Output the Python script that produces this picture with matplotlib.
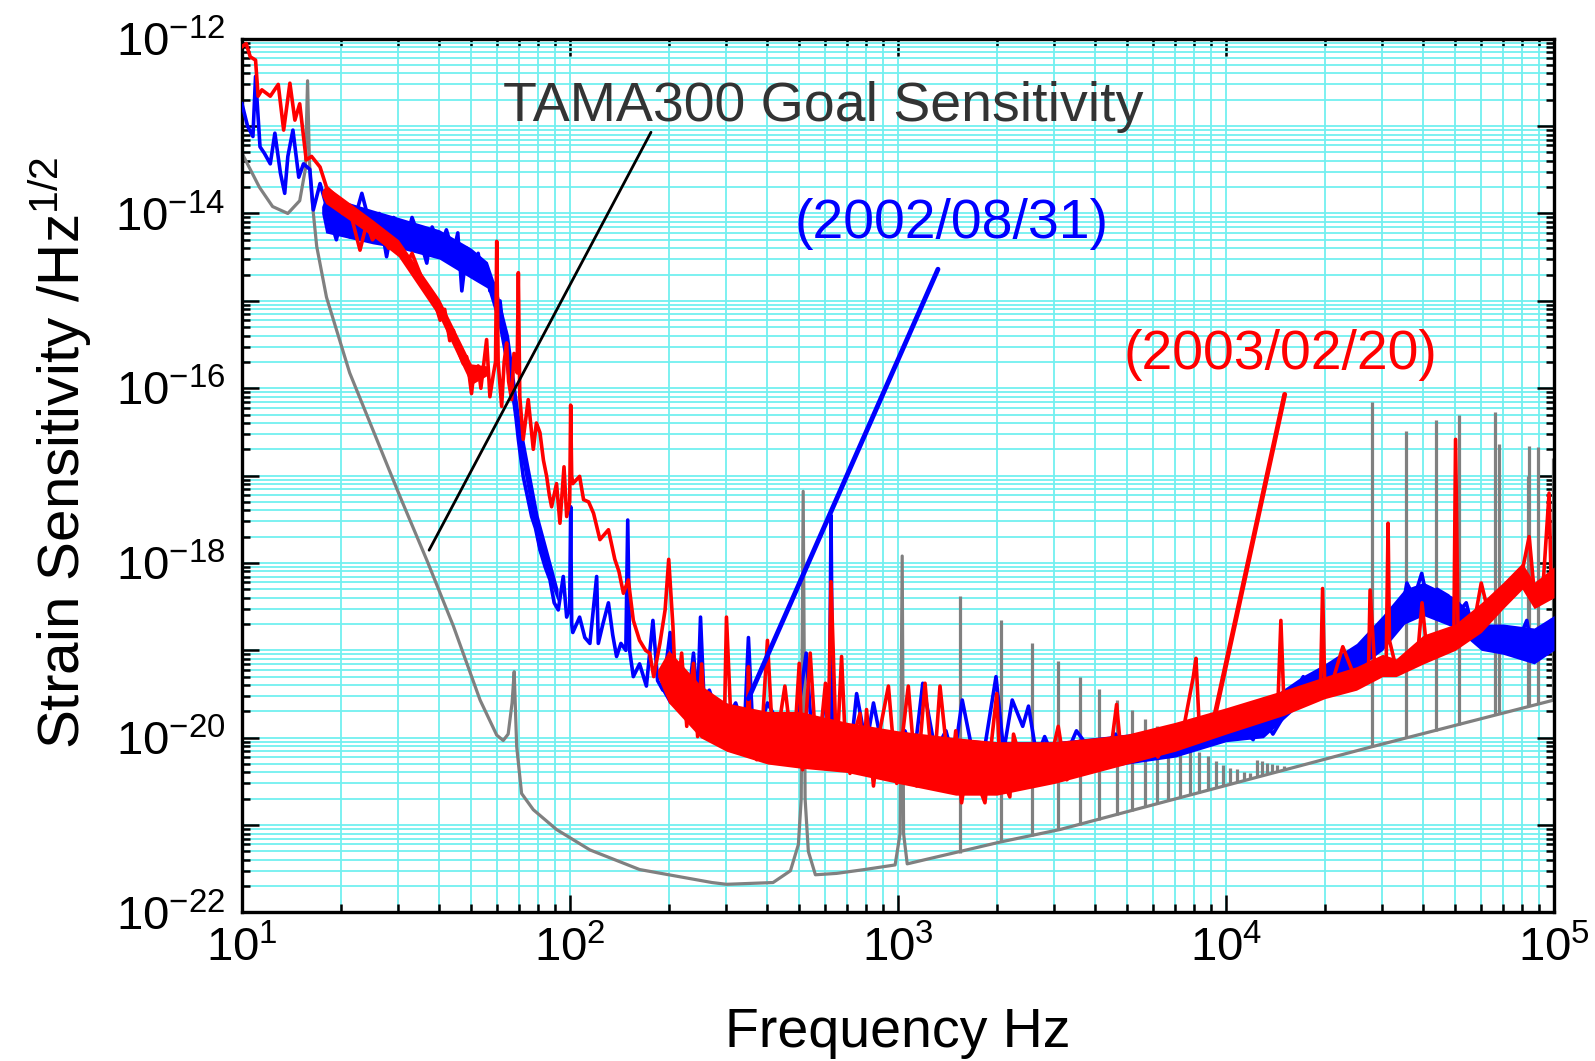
import numpy as np
import matplotlib
matplotlib.use("Agg")
import matplotlib.pyplot as plt
from matplotlib.ticker import LogLocator, FixedLocator, FuncFormatter, NullFormatter

plt.rcParams['font.family'] = ['Liberation Sans', 'DejaVu Sans']
plt.rcParams['mathtext.fontset'] = 'custom'
plt.rcParams['mathtext.rm'] = 'Liberation Sans'
plt.rcParams['mathtext.it'] = 'Liberation Sans:italic'
plt.rcParams['axes.unicode_minus'] = False

# colours
BLUE = '#0000ff'
RED = '#ff0000'
GRAY = '#808080'
GRID = '#72f0f0'

# TAMA300 goal sensitivity (smooth part, with the 16 Hz, 67 Hz, 500 Hz and 1 kHz resonances)
goal_pts = [
    (10.0, 4.9e-14), (11.3, 2.0e-14), (12.4, 1.2e-14), (13.8, 1.0e-14), (15.0, 1.4e-14),
    (15.6, 3.2e-14), (15.85, 3.3e-13), (16.05, 4.0e-14), (16.3, 1.6e-14), (16.9, 4.2e-15),
    (18.1, 1.1e-15), (21.3, 1.5e-16), (25.1, 3.3e-17), (30.3, 5.8e-18), (36.6, 1.08e-18),
    (44.1, 1.9e-19), (53.2, 2.7e-20), (59.8, 1.07e-20), (62.6, 9.3e-21), (64.8, 1.1e-20),
    (66.6, 2.5e-20), (67.6, 5.7e-20), (68.4, 1.5e-20), (68.8, 7.9e-21), (71.2, 2.3e-21),
    (77.3, 1.5e-21), (91.0, 8.9e-22), (115.0, 5.2e-22), (163.0, 3.1e-22), (271.0, 2.2e-22),
    (300.0, 2.1e-22), (416.0, 2.2e-22), (470.0, 3.0e-22), (497.0, 6.0e-22), (507.0, 2.0e-21),
    (514.0, 6.6e-18), (521.0, 2.0e-21), (533.0, 5.0e-22), (560.0, 2.7e-22), (650.0, 2.8e-22),
    (791.0, 3.1e-22), (980.0, 3.5e-22), (1015.0, 8.0e-22), (1030.0, 1.2e-18), (1040.0, 8.0e-22),
    (1067.0, 3.6e-22), (2050.0, 6.4e-22), (3119.0, 8.9e-22), (27900.0, 7.9e-21),
    (100000.0, 2.7e-20),
]

# narrow violin / mirror lines on the goal curve: (frequency, top, foot)
goal_peaks = [
    (1545, 4.2e-19, 4.8e-22), (2060, 2.2e-19, 6.4e-22), (2570, 1.2e-19, 7.6e-22),
    (3080, 7.5e-20, 8.8e-22), (3600, 5.0e-20, 1.0e-21), (4110, 3.6e-20, 1.15e-21),
    (4640, 2.7e-20, 1.3e-21), (5160, 2.1e-20, 1.45e-21), (5660, 1.65e-20, 1.6e-21),
    (6150, 1.35e-20, 1.75e-21), (6670, 1.1e-20, 1.9e-21), (7240, 9.6e-21, 2.05e-21),
    (7760, 8.3e-21, 2.2e-21), (8300, 6.9e-21, 2.35e-21), (8800, 6.1e-21, 2.5e-21),
    (9330, 5.4e-21, 2.65e-21), (9820, 4.9e-21, 2.8e-21), (10300, 4.5e-21, 3.0e-21),
    (10800, 4.4e-21, 3.15e-21), (11350, 4.1e-21, 3.3e-21), (11800, 3.9e-21, 3.45e-21),
    (12400, 5.6e-21, 3.6e-21), (12850, 5.4e-21, 3.75e-21), (13300, 5.1e-21, 3.9e-21),
    (13800, 5.0e-21, 4.0e-21), (14300, 4.9e-21, 4.2e-21), (15000, 4.8e-21, 4.4e-21),
    (27900, 7.0e-17, 7.9e-21), (35300, 3.2e-17, 1.0e-20), (43600, 4.3e-17, 1.2e-20),
    (51300, 4.9e-17, 1.4e-20), (66100, 5.3e-17, 1.8e-20), (68100, 2.3e-17, 1.85e-20),
    (83200, 1.0e-17, 2.3e-20), (84100, 2.2e-17, 2.3e-20), (89500, 2.1e-17, 2.45e-20),
    (99500, 1.6e-17, 2.7e-20),
]

# measured spectrum 2002/08/31
blue_pts = [
    (10.0, 1.8e-13), (10.4, 1.0e-13), (10.8, 7.6e-14), (11.0, 3.7e-13), (11.35, 5.8e-14),
    (11.7, 4.9e-14), (12.2, 3.7e-14), (12.6, 8.3e-14), (13.1, 2.9e-14), (13.5, 1.7e-14),
    (13.8, 4.5e-14), (14.3, 9.0e-14), (14.9, 2.6e-14), (15.4, 3.7e-14), (16.1, 3.2e-14),
    (16.5, 1.1e-14), (17.3, 2.2e-14), (18.5, 9.1e-15), (19.4, 5.0e-15), (20.4, 1.1e-14),
    (21.3, 5.4e-15), (23.2, 1.7e-14), (24.8, 6.5e-15), (26.2, 1.0e-14), (27.6, 3.2e-15),
    (29.0, 9.0e-15), (30.0, 8.0e-15), (31.5, 4.5e-15), (33.0, 9.0e-15), (34.9, 5.0e-15),
    (36.6, 2.7e-15), (38.0, 7.0e-15), (40.2, 4.0e-15), (42.0, 6.5e-15), (44.1, 3.5e-15),
    (45.5, 6.0e-15), (46.8, 1.3e-15), (48.5, 4.0e-15), (50.7, 2.2e-15), (52.5, 3.5e-15),
    (54.0, 1.8e-15), (55.7, 2.5e-15), (57.0, 1.3e-15), (58.4, 1.6e-15), (60.0, 7.0e-16),
    (61.2, 1.0e-15), (62.6, 4.6e-16), (63.9, 2.3e-16), (65.6, 1.15e-16), (67.2, 8.0e-17),
    (68.5, 4.5e-17), (69.6, 2.6e-17), (72.0, 9.8e-18), (74.0, 6.0e-18), (76.4, 3.4e-18),
    (78.5, 2.5e-18), (81.1, 1.4e-18), (84.0, 9.0e-19), (86.9, 6.4e-19), (89.5, 3.5e-19),
    (92.1, 2.9e-19), (95.4, 7.0e-19), (97.7, 2.4e-19), (99.8, 3.0e-19), (100.5, 4.4e-18),
    (101.2, 2.0e-19), (102.0, 1.6e-19), (107.0, 2.4e-19), (111.0, 1.4e-19), (115.0, 1.2e-19),
    (120.6, 7.0e-19), (122.0, 1.2e-19), (126.0, 2.0e-19), (131.0, 3.5e-19), (135.0, 1.5e-19),
    (138.7, 8.5e-20), (143.0, 1.2e-19), (148.0, 1.0e-19), (150.0, 3.1e-18), (152.0, 1.0e-19),
    (156.0, 5.0e-20), (163.0, 7.0e-20), (171.0, 3.9e-20), (179.0, 2.2e-19), (185.0, 4.5e-20),
    (192.0, 3.5e-20), (202.0, 1.6e-19), (211.0, 2.8e-20), (220.0, 6.0e-20), (229.0, 2.5e-20),
    (238.0, 9.3e-20), (245.0, 2.5e-20), (250.0, 2.4e-19), (256.0, 3.0e-20), (266.0, 3.5e-20),
    (280.0, 2.0e-20), (300.0, 1.6e-20), (320.0, 2.5e-20), (340.0, 1.2e-20), (350.0, 1.4e-19),
    (360.0, 1.5e-20), (380.0, 1.35e-20), (400.0, 2.5e-20), (427.0, 1.6e-20), (460.0, 1.0e-20),
    (490.0, 1.4e-20), (525.0, 9.3e-20), (545.0, 1.2e-20), (575.0, 8.0e-21), (600.0, 3.0e-20),
    (618.0, 1.5e-20), (625.0, 3.5e-18), (632.0, 1.5e-20), (680.0, 1.0e-20), (720.0, 8.0e-21),
    (748.0, 3.2e-20), (800.0, 8.0e-21), (842.0, 2.5e-20), (900.0, 7.0e-21), (965.0, 8.7e-21),
    (1050.0, 1.2e-20), (1120.0, 6.0e-21), (1190.0, 4.2e-20), (1300.0, 7.0e-21), (1400.0, 1.2e-20),
    (1480.0, 5.5e-21), (1570.0, 2.7e-20), (1700.0, 6.0e-21), (1850.0, 9.0e-21), (1990.0, 5.0e-20),
    (2100.0, 7.0e-21), (2230.0, 2.7e-20), (2400.0, 1.35e-20), (2500.0, 2.3e-20), (2650.0, 6.0e-21),
    (2800.0, 1.03e-20), (3000.0, 5.5e-21), (3270.0, 6.6e-21), (3500.0, 1.2e-20), (3700.0, 9.0e-21),
    (4130.0, 7.3e-21), (4600.0, 1.1e-20), (5000.0, 6.0e-21), (5450.0, 5.6e-21), (6000.0, 1.0e-20),
    (6590.0, 7.9e-21), (7400.0, 1.2e-20), (8300.0, 8.7e-21), (9400.0, 1.4e-20), (10500.0, 1.6e-20),
    (12100.0, 9.5e-21), (12700.0, 1.9e-20), (13900.0, 1.1e-20), (14900.0, 1.7e-20), (16000.0, 3.0e-20),
    (17200.0, 5.0e-20), (18500.0, 3.0e-20), (20300.0, 5.5e-20), (21200.0, 6.5e-20), (22500.0, 4.5e-20),
    (24400.0, 8.5e-20), (26000.0, 7.0e-20), (28100.0, 1.6e-19), (30000.0, 1.1e-19), (32400.0, 2.7e-19),
    (34000.0, 2.2e-19), (35600.0, 5.9e-19), (37500.0, 4.0e-19), (39500.0, 7.6e-19), (41500.0, 3.2e-19),
    (44000.0, 5.0e-19), (47600.0, 4.2e-19), (51000.0, 2.7e-19), (54000.0, 3.5e-19), (58000.0, 1.2e-19),
    (62000.0, 1.8e-19), (66000.0, 1.3e-19), (70000.0, 1.6e-19), (73500.0, 1.1e-19), (78000.0, 1.3e-19),
    (82600.0, 2.2e-19), (87000.0, 7.8e-20), (92000.0, 1.3e-19), (98000.0, 2.2e-19), (100000.0, 1.4e-19),
]

# measured spectrum 2003/02/20
red_pts = [
    (10.0, 8.1e-13), (10.3, 8.8e-13), (10.6, 6.2e-13), (11.0, 5.7e-13), (11.2, 2.2e-13),
    (11.5, 2.6e-13), (12.2, 2.2e-13), (12.9, 3.0e-13), (13.4, 9.0e-14), (14.0, 3.1e-13),
    (14.5, 1.17e-13), (15.0, 1.8e-13), (15.4, 7.6e-14), (15.7, 4.1e-14), (16.3, 4.5e-14),
    (17.3, 3.4e-14), (18.1, 2.0e-14), (19.4, 1.55e-14), (20.3, 1.0e-14), (21.3, 1.1e-14),
    (22.9, 3.8e-15), (24.0, 7.7e-15), (25.0, 5.0e-15), (26.3, 6.5e-15), (28.0, 4.0e-15),
    (29.6, 4.6e-15), (31.8, 2.7e-15), (33.0, 3.5e-15), (35.0, 2.0e-15), (36.6, 1.33e-15),
    (38.3, 1.1e-15), (40.2, 6.0e-16), (41.5, 8.0e-16), (43.0, 3.5e-16), (44.1, 4.6e-16),
    (46.0, 2.5e-16), (47.3, 1.9e-16), (48.4, 2.3e-16), (49.3, 1.4e-16), (50.1, 8.7e-17),
    (51.0, 1.6e-16), (52.5, 1.8e-16), (53.5, 1.0e-16), (55.7, 3.6e-16), (57.0, 8.0e-17),
    (58.5, 1.5e-16), (59.3, 2.0e-16), (59.8, 4.8e-15), (60.4, 2.0e-16), (61.9, 6.2e-17),
    (63.0, 2.0e-16), (64.1, 3.3e-16), (65.0, 1.2e-16), (66.4, 7.4e-17), (67.5, 2.5e-16),
    (69.0, 1.5e-16), (69.6, 2.1e-15), (70.3, 8.0e-17), (72.0, 2.6e-17), (74.6, 7.4e-17),
    (77.3, 2.0e-17), (79.0, 4.0e-17), (81.0, 3.1e-17), (83.0, 1.5e-17), (84.9, 9.8e-18),
    (86.5, 6.0e-18), (87.9, 4.4e-18), (91.0, 8.1e-18), (93.2, 2.85e-18), (95.9, 1.26e-17),
    (97.7, 3.4e-18), (99.8, 5.0e-18), (100.5, 6.4e-17), (101.2, 1.0e-17), (102.0, 8.1e-18),
    (107.0, 9.8e-18), (110.0, 5.3e-18), (114.0, 5.0e-18), (118.0, 3.7e-18), (123.4, 1.85e-18),
    (131.0, 2.4e-18), (137.0, 1.1e-18), (141.0, 8.0e-19), (145.5, 4.5e-19), (150.6, 6.4e-19),
    (156.0, 2.2e-19), (163.0, 1.3e-19), (170.0, 1.0e-19), (175.0, 9.3e-20), (180.0, 5.0e-20),
    (188.0, 1.2e-19), (195.0, 2.9e-19), (200.0, 1.1e-18), (206.0, 1.9e-19), (211.0, 2.3e-20),
    (219.0, 9.3e-20), (227.0, 1.35e-20), (238.0, 7.1e-20), (245.0, 1.03e-20), (252.0, 7.0e-20),
    (258.0, 1.5e-20), (267.0, 1.1e-20), (286.0, 1.9e-20), (295.0, 1.0e-20), (300.0, 2.4e-19),
    (311.0, 1.03e-20), (330.0, 7.3e-21), (347.0, 9.5e-21), (350.0, 6.5e-20), (355.0, 8.0e-21),
    (371.0, 5.6e-21), (385.0, 1.2e-20), (400.0, 1.3e-19), (417.0, 6.6e-21), (435.0, 1.5e-20),
    (452.0, 3.9e-20), (480.0, 5.6e-21), (500.0, 7.1e-20), (512.0, 4.3e-21), (540.0, 9.3e-20),
    (565.0, 5.6e-21), (585.0, 1.5e-20), (601.0, 4.2e-20), (612.0, 8.0e-21), (625.0, 6.1e-19),
    (650.0, 5.6e-21), (673.0, 8.5e-20), (690.0, 1.0e-20), (714.0, 3.9e-21), (740.0, 1.2e-20),
    (766.0, 1.9e-20), (785.0, 5.0e-21), (802.0, 2.1e-20), (842.0, 2.8e-21), (880.0, 1.2e-20),
    (935.0, 3.9e-20), (991.0, 3.0e-21), (1030.0, 1.0e-20), (1075.0, 3.9e-20), (1140.0, 2.8e-21),
    (1209.0, 4.2e-20), (1282.0, 3.3e-21), (1343.0, 3.9e-20), (1442.0, 3.0e-21), (1500.0, 1.2e-20),
    (1563.0, 1.8e-21), (1660.0, 7.9e-21), (1750.0, 3.0e-21), (1841.0, 1.8e-21), (2000.0, 3.2e-20),
    (2050.0, 3.9e-21), (2193.0, 2.1e-21), (2250.0, 1.1e-20), (2350.0, 6.1e-21), (2450.0, 3.0e-21),
    (2590.0, 4.3e-21), (2710.0, 3.3e-21), (2900.0, 5.0e-21), (3080.0, 1.35e-20), (3270.0, 3.3e-21),
    (3670.0, 5.6e-21), (4130.0, 6.6e-21), (4400.0, 5.0e-21), (4640.0, 2.4e-20), (4800.0, 6.0e-21),
    (5220.0, 7.3e-21), (5870.0, 9.5e-21), (6200.0, 6.0e-21), (6590.0, 9.5e-21), (7000.0, 8.0e-21),
    (7410.0, 1.23e-20), (7950.0, 5.0e-20), (8100.0, 8.1e-20), (8300.0, 1.2e-20), (8530.0, 1.7e-20),
    (9370.0, 1.6e-20), (10500.0, 2.1e-20), (11300.0, 1.7e-20), (12100.0, 2.5e-20), (13300.0, 2.3e-20),
    (14400.0, 2.5e-20), (14700.0, 2.2e-19), (15000.0, 2.8e-20), (16000.0, 3.2e-20), (17600.0, 3.9e-20),
    (19400.0, 3.5e-20), (19700.0, 5.1e-19), (20000.0, 4.0e-20), (21200.0, 4.6e-20), (22700.0, 1.1e-19),
    (24400.0, 5.5e-20), (25600.0, 5.5e-20), (27200.0, 6.0e-20), (27500.0, 4.9e-19), (28400.0, 6.5e-20),
    (29500.0, 6.5e-20), (30800.0, 8.0e-20), (31200.0, 2.85e-18), (31500.0, 1.3e-19), (33100.0, 6.0e-20),
    (34000.0, 6.5e-20), (36400.0, 7.8e-20), (38500.0, 1.0e-19), (39600.0, 3.5e-19), (40500.0, 1.5e-19),
    (41900.0, 8.5e-20), (44000.0, 1.0e-19), (47100.0, 1.2e-19), (49500.0, 1.3e-19), (50100.0, 2.6e-17),
    (51000.0, 1.5e-19), (54200.0, 1.6e-19), (57000.0, 2.0e-19), (60000.0, 5.9e-19), (62400.0, 3.2e-19),
    (66000.0, 4.0e-19), (71800.0, 5.9e-19), (76000.0, 7.0e-19), (80500.0, 9.1e-19), (84000.0, 2.0e-18),
    (87500.0, 3.8e-19), (90000.0, 5.0e-19), (92700.0, 5.9e-19), (96600.0, 6.3e-18), (98000.0, 6.0e-19),
    (100000.0, 7.0e-19),
]

# width of the dense noise band of each spectrum: (frequency, lower edge, upper edge)
blue_band_low = [
    (17.5, 1.0e-14, 1.2e-14), (18, 6e-15, 1.6e-14), (25, 4.5e-15, 1.1e-14), (30, 4e-15, 9e-15),
    (40, 3e-15, 6.5e-15), (50, 1.8e-15, 4e-15), (56, 1.4e-15, 2.8e-15), (60, 6e-16, 1.3e-15),
    (65, 1.2e-16, 4e-16), (70, 2.2e-17, 5e-17), (80, 1.4e-18, 3.5e-18), (92, 3.5e-19, 5e-19),
]
blue_band_high = [
    (190, 3.5e-20, 4e-20), (200, 2.5e-20, 6e-20), (300, 1.1e-20, 2.5e-20), (400, 7e-21, 1.8e-20),
    (700, 5e-21, 1.3e-20), (1000, 4e-21, 1.1e-20), (2000, 3e-21, 9e-21), (3000, 3.5e-21, 9e-21),
    (5000, 5e-21, 1.1e-20), (7000, 6e-21, 1.3e-20), (10000, 9e-21, 2e-20), (13000, 1e-20, 2.5e-20),
    (17000, 2.5e-20, 5e-20), (20000, 3.5e-20, 7e-20), (25000, 6e-20, 1.2e-19), (30000, 1e-19, 2.5e-19),
    (35000, 2e-19, 5e-19), (40000, 2.5e-19, 6e-19), (50000, 1.8e-19, 4e-19), (60000, 1e-19, 2e-19),
    (70000, 9e-20, 2e-19), (87000, 7e-20, 1.8e-19), (100000, 1e-19, 2.5e-19),
]
red_band_low = [
    (17.5, 1.6e-14, 1.8e-14), (18, 1.3e-14, 2.1e-14), (25, 5.5e-15, 8.5e-15), (30, 3.2e-15, 5e-15),
    (40, 6.5e-16, 1.05e-15), (50, 1.1e-16, 1.9e-16), (56, 1.4e-16, 1.8e-16),
]
red_band_high = [
    (185, 5e-20, 6e-20), (200, 2.5e-20, 1e-19), (250, 1e-20, 4e-20), (300, 7e-21, 2.5e-20),
    (400, 5e-21, 2e-20), (500, 4.5e-21, 2e-20), (700, 4e-21, 1.5e-20), (1000, 3e-21, 1.2e-20),
    (1500, 2.2e-21, 1e-20), (2000, 2.2e-21, 9e-21), (3000, 3e-21, 9e-21), (4000, 4e-21, 1e-20),
    (5000, 5e-21, 1.1e-20), (7000, 7e-21, 1.5e-20), (10000, 1.1e-20, 2.2e-20), (15000, 1.8e-20, 3.5e-20),
    (20000, 2.8e-20, 5e-20), (25000, 3.5e-20, 6.5e-20), (30000, 5e-20, 9e-20), (33000, 5e-20, 8e-20),
    (40000, 7e-20, 1.5e-19), (50000, 1e-19, 2e-19), (60000, 1.6e-19, 3.5e-19), (70000, 3e-19, 6e-19),
    (80000, 5e-19, 1e-18), (87000, 3e-19, 6e-19), (100000, 4e-19, 9e-19),
]

f_goal, h_goal = np.array(goal_pts).T
pk_f, pk_top, pk_foot = np.array(goal_peaks).T
f_blue, h_blue = np.array(blue_pts).T
f_red, h_red = np.array(red_pts).T

fig = plt.figure(figsize=(15.95, 10.61), dpi=100)
ax = fig.add_axes([0.1517, 0.140, 0.8226, 0.8235])

ax.vlines(pk_f, pk_foot, pk_top, color=GRAY, lw=2.3, zorder=2)
ax.plot(f_goal, h_goal, color=GRAY, lw=2.3, zorder=2)

for band in (blue_band_low, blue_band_high):
    bf, blo, bhi = np.array(band).T
    ax.fill_between(bf, blo, bhi, color=BLUE, lw=0, zorder=3)
ax.plot(f_blue, h_blue, color=BLUE, lw=2.6, zorder=3)

for band in (red_band_low, red_band_high):
    bf, blo, bhi = np.array(band).T
    ax.fill_between(bf, blo, bhi, color=RED, lw=0, zorder=4)
ax.plot(f_red, h_red, color=RED, lw=2.6, zorder=4)

ax.set_xscale('log')
ax.set_yscale('log')
ax.set_xlim(10, 1e5)
ax.set_ylim(1e-22, 1e-12)

ax.xaxis.set_major_locator(LogLocator(base=10, numticks=10))
ax.xaxis.set_minor_locator(LogLocator(base=10, subs=np.arange(2, 10), numticks=100))
ax.xaxis.set_minor_formatter(NullFormatter())
ax.yaxis.set_major_locator(FixedLocator([10.0 ** k for k in range(-22, -11)]))
ax.yaxis.set_minor_locator(LogLocator(base=10, subs=np.arange(2, 10), numticks=100))
ax.yaxis.set_minor_formatter(NullFormatter())


def ylab(v, pos):
    e = int(round(np.log10(v)))
    if e % 2:
        return ''
    return r'$\mathdefault{10^{%d}}$' % e


ax.yaxis.set_major_formatter(FuncFormatter(ylab))

ax.tick_params(which='both', direction='in', top=True, right=True, width=1.8, labelsize=34)
ax.tick_params(which='major', length=12)
ax.tick_params(which='minor', length=6)
ax.tick_params(axis='y', pad=12)
ax.tick_params(axis='x', pad=10)
for s in ax.spines.values():
    s.set_linewidth(2.4)

ax.grid(True, which='both', color=GRID, lw=1.3)
ax.set_axisbelow(True)

ax.set_xlabel('Frequency Hz', fontsize=40)
ax.xaxis.set_label_coords(0.5, -0.108)
ax.set_ylabel(r'Strain Sensitivity /Hz$^{\mathdefault{1/2}}$', fontsize=42)
ax.yaxis.set_label_coords(-0.113, 0.526)

# labels with pointer lines
ax.text(0.199, 0.922, 'TAMA300 Goal Sensitivity', transform=ax.transAxes,
        fontsize=40, color='#333333', ha='left', va='center')
ax.annotate('', xy=(37.2, 1.4e-18), xytext=(176.6, 8.5e-14),
            arrowprops=dict(arrowstyle='-', color='black', lw=2.0, shrinkA=0, shrinkB=0), zorder=5)

ax.text(0.4213, 0.788, '(2002/08/31)', transform=ax.transAxes,
        fontsize=40, color=BLUE, ha='left', va='center')
ax.annotate('', xy=(350, 2.8e-20), xytext=(1324, 2.3e-15),
            arrowprops=dict(arrowstyle='-', color=BLUE, lw=3.5, shrinkA=0, shrinkB=0), zorder=5)

ax.text(0.6715, 0.6385, '(2003/02/20)', transform=ax.transAxes,
        fontsize=40, color=RED, ha='left', va='center')
ax.annotate('', xy=(9150, 1.5e-20), xytext=(15100, 8.5e-17),
            arrowprops=dict(arrowstyle='-', color=RED, lw=3.5, shrinkA=0, shrinkB=0), zorder=5)

fig.savefig('out.png', dpi=100)
